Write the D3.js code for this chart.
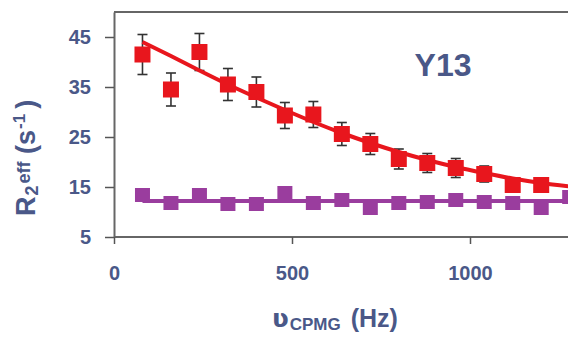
<!DOCTYPE html>
<html>
<head>
<meta charset="utf-8">
<script src="https://cdn.jsdelivr.net/npm/d3@7"></script>
<style>
  body { margin: 0; background: #fff; }
  svg { display: block; font-family: "Liberation Sans", Arial, sans-serif; }
</style>
</head>
<body>
<script>
// CPMG frequency (Hz)
var freq = [80, 160, 240, 320, 400, 480, 560, 640, 720, 800, 880, 960, 1040, 1120, 1200, 1280];
// red series: R2eff and error (last point falls outside the crop)
var redVals = [41.5, 34.5, 42.0, 35.5, 34.0, 29.3, 29.5, 25.6, 23.6, 20.6, 19.8, 18.8, 17.6, 15.4, 15.4];
var redErr  = [4.0, 3.3, 3.7, 3.2, 3.0, 2.6, 2.6, 2.3, 2.1, 2.0, 1.9, 1.9, 1.6, 1.2, 1.4];
var redFit  = [44.0, 41.2, 38.3, 35.5, 32.9, 30.4, 28.0, 25.8, 23.8, 22.0, 20.4, 19.0, 17.8, 16.7, 15.8, 15.1];
// purple series
var purpleVals = [13.4, 11.8, 13.4, 11.6, 11.6, 13.8, 11.8, 12.4, 10.8, 11.8, 12.0, 12.4, 12.0, 11.8, 10.8, 13.0];
var purpleFit  = [12.2, 12.2, 12.2, 12.2, 12.2, 12.2, 12.2, 12.2, 12.2, 12.2, 12.2, 12.2, 12.2, 12.2, 12.2, 12.2];
var yTicks = [5, 15, 25, 35, 45];
var xTicks = [0, 500, 1000];

var W = 568, H = 338;
var textCol = "#4a5888";
var svg = d3.select("body").append("svg").attr("width", W).attr("height", H);

var x = d3.scaleLinear().domain([0, 1300]).range([114, 114 + 0.356 * 1300]);
var y = d3.scaleLinear().domain([5, 50]).range([237, 12]);

// frame: top line
svg.append("line")
  .attr("x1", x(0)).attr("x2", W + 5)
  .attr("y1", y(50)).attr("y2", y(50))
  .attr("stroke", "#666").attr("stroke-width", 2);

var gy = svg.append("g").attr("transform", "translate(" + x(0) + ",0)")
  .call(d3.axisLeft(y).tickValues(yTicks).tickSize(9).tickPadding(14).tickSizeOuter(0));
var gx = svg.append("g").attr("transform", "translate(0," + y(5) + ")")
  .call(d3.axisBottom(x).tickValues(xTicks).tickFormat(d3.format("d")).tickSize(7).tickPadding(22).tickSizeOuter(0));

[gy, gx].forEach(function (g) {
  g.select(".domain").attr("stroke", "#666").attr("stroke-width", 2);
  g.selectAll(".tick line").attr("stroke", "#555").attr("stroke-width", 1.5);
  g.selectAll(".tick text")
    .attr("fill", textCol).attr("font-size", 20).attr("font-weight", "bold")
    .attr("font-family", "Liberation Sans, Arial, sans-serif");
});
gx.select(".domain").attr("d", "M" + x(0) + ",0H" + (W + 5));

var fitPts = freq.map(function (f, i) { return { f: f, rf: redFit[i], p: purpleVals[i], pf: purpleFit[i] }; });
var redPts = redVals.map(function (v, i) { return { f: freq[i], r: v, e: redErr[i] }; });

// purple fit + squares
svg.append("path").datum(fitPts)
  .attr("d", d3.line().x(function (d) { return x(d.f); }).y(function (d) { return y(d.pf); }))
  .attr("fill", "none").attr("stroke", "#9a3d9e").attr("stroke-width", 4);
svg.selectAll(".psq").data(fitPts).join("rect")
  .attr("x", function (d) { return x(d.f) - 7.5; })
  .attr("y", function (d) { return y(d.p) - 7; })
  .attr("width", 15).attr("height", 14)
  .attr("fill", "#9a3d9e");

// error bars
var eb = svg.selectAll(".eb").data(redPts).join("g").attr("stroke", "#333").attr("stroke-width", 1.6);
eb.append("line")
  .attr("x1", function (d) { return x(d.f); }).attr("x2", function (d) { return x(d.f); })
  .attr("y1", function (d) { return y(d.r + d.e); }).attr("y2", function (d) { return y(d.r - d.e); });
eb.append("line")
  .attr("x1", function (d) { return x(d.f) - 5; }).attr("x2", function (d) { return x(d.f) + 5; })
  .attr("y1", function (d) { return y(d.r + d.e); }).attr("y2", function (d) { return y(d.r + d.e); });
eb.append("line")
  .attr("x1", function (d) { return x(d.f) - 5; }).attr("x2", function (d) { return x(d.f) + 5; })
  .attr("y1", function (d) { return y(d.r - d.e); }).attr("y2", function (d) { return y(d.r - d.e); });

// red fit + squares
svg.append("path").datum(fitPts)
  .attr("d", d3.line().curve(d3.curveMonotoneX).x(function (d) { return x(d.f); }).y(function (d) { return y(d.rf); }))
  .attr("fill", "none").attr("stroke", "#e8161d").attr("stroke-width", 4);
svg.selectAll(".rsq").data(redPts).join("rect")
  .attr("x", function (d) { return x(d.f) - 8; })
  .attr("y", function (d) { return y(d.r) - 8; })
  .attr("width", 16).attr("height", 16)
  .attr("fill", "#e8161d");

// label
svg.append("text").attr("x", 443).attr("y", 76).attr("text-anchor", "middle")
  .attr("fill", textCol).attr("font-size", 32).attr("font-weight", "bold").text("Y13");

// y title
var yt = svg.append("text").attr("transform", "translate(35,216) rotate(-90)")
  .attr("text-anchor", "start").attr("fill", textCol).attr("font-size", 27).attr("font-weight", "bold");
yt.append("tspan").text("R");
yt.append("tspan").attr("font-size", 18).attr("dy", 3).attr("dx", 1).text("2");
yt.append("tspan").attr("font-size", 18).attr("dy", -8).attr("dx", 2).text("eff");
yt.append("tspan").attr("dy", 5).text(" (s");
yt.append("tspan").attr("font-size", 17).attr("dy", -10).attr("dx", 1).text("-1");
yt.append("tspan").attr("dy", 10).attr("dx", 5).text(")");

// x title
var xt = svg.append("text").attr("x", 272).attr("y", 327).attr("text-anchor", "start")
  .attr("fill", textCol).attr("font-size", 25).attr("font-weight", "bold");
xt.append("tspan").attr("font-family", "DejaVu Sans, sans-serif").attr("font-size", 25).text("\u028B");
xt.append("tspan").attr("font-size", 17).attr("dy", 3).attr("dx", 1).text("CPMG");
xt.append("tspan").attr("dy", -3).attr("dx", 3).text(" (Hz)");
</script>
</body>
</html>
